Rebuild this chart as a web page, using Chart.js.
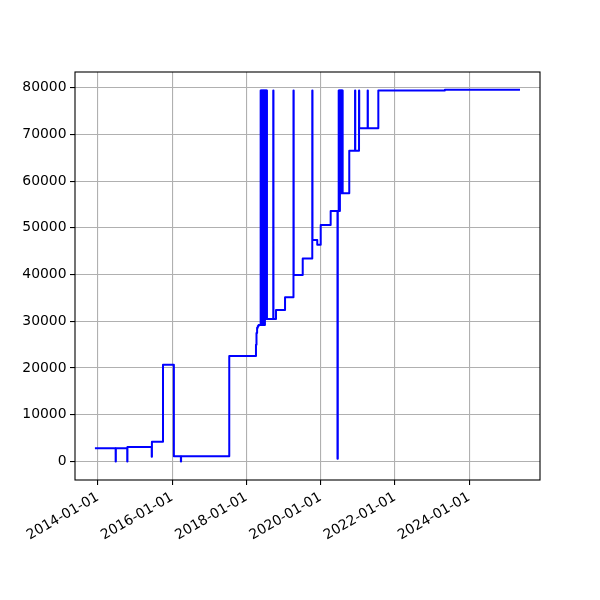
<!DOCTYPE html>
<html>
<head>
<meta charset="utf-8">
<script src="https://cdn.jsdelivr.net/npm/chart.js@4.4.1/dist/chart.umd.min.js"></script>
<style>html,body{margin:0;padding:0;background:#fff}canvas{display:block}</style>
</head>
<body>
<canvas id="c" width="600" height="600"></canvas>
<script>
// ---- data ----
const dates = [
  '2013-12-02','2014-06-24','2014-06-26','2014-10-16','2014-10-18',
  '2015-06-14','2015-06-16','2015-10-03','2016-01-18','2016-03-27',
  '2016-03-29','2017-07-16','2018-04-05','2018-04-10','2018-04-16',
  '2018-04-23','2018-05-01',
  '2018-05-21','2018-05-24','2018-05-27','2018-05-30','2018-06-02',
  '2018-06-05','2018-06-08','2018-06-11','2018-06-14','2018-06-17',
  '2018-06-20','2018-06-23','2018-06-26','2018-06-29','2018-07-02',
  '2018-07-05','2018-07-08','2018-07-11','2018-07-14','2018-07-17',
  '2018-07-20','2018-07-22',
  '2018-09-22','2018-09-24','2018-10-19','2019-01-16','2019-04-09',
  '2019-04-11','2019-07-09','2019-10-11','2019-10-13','2019-11-29',
  '2020-01-02','2020-04-09','2020-06-15','2020-06-18',
  '2020-06-27','2020-06-30','2020-07-03','2020-07-06','2020-07-09',
  '2020-07-12','2020-07-15','2020-07-18','2020-07-21','2020-07-24',
  '2020-07-27','2020-07-30','2020-08-02','2020-08-05',
  '2020-10-09','2020-12-05','2020-12-07','2021-01-13','2021-01-15',
  '2021-04-08','2021-04-10','2021-07-22','2023-05-08','2025-05-16'
];
const values = [
  2800, 0, 2800, 0, 3100,
  1000, 4200, 20700, 1100, 0,
  1100, 22600, 25000, 27500, 28600,
  29000, 29200,
  79400, 29200, 79400, 29200, 79400,
  29200, 79400, 29200, 79400, 29200,
  79400, 29200, 79400, 29200, 79400,
  30500, 79400, 30500, 79400, 30500,
  79400, 30500,
  79400, 30500, 32400, 35150, 79400,
  39900, 43450, 79400, 47400, 46400,
  50600, 53600, 600, 53600,
  79400, 53600, 79400, 53600, 79400,
  57400, 79400, 57400, 79400, 57400,
  79400, 57400, 79400, 57400,
  66500, 79400, 66500, 79400, 71350,
  79400, 71350, 79400, 79550, 79550
];
const xTickLabels = ['2014-01-01','2016-01-01','2018-01-01','2020-01-01','2022-01-01','2024-01-01'];
const yTickValues = [0, 10000, 20000, 30000, 40000, 50000, 60000, 70000, 80000];
const xMinDate = '2013-05-20';
const xMaxDate = '2025-11-29';
const yMin = -3970;
const yMax = 83370;

// ---- build ----
const toMs = d => Date.parse(d);
const points = dates.map((d, i) => ({ x: toMs(d), y: values[i] }));
const xTickMs = xTickLabels.map(toMs);
const fmt = ms => { const d = new Date(ms); const p = n => String(n).padStart(2, '0');
  return d.getUTCFullYear() + '-' + p(d.getUTCMonth() + 1) + '-' + p(d.getUTCDate()); };

const FONT = { family: 'DejaVu Sans', size: 13.9 };
Chart.defaults.color = '#000';

const frame = {
  id: 'frame',
  afterDraw(chart) {
    const { ctx, chartArea: a } = chart;
    ctx.save();
    ctx.strokeStyle = '#000';
    ctx.lineWidth = 1.1;
    ctx.strokeRect(a.left, a.top, a.right - a.left, a.bottom - a.top);
    ctx.restore();
  }
};

new Chart(document.getElementById('c'), {
  type: 'line',
  data: {
    datasets: [{
      data: points,
      borderColor: '#0000ff',
      borderWidth: 2,
      pointRadius: 0,
      stepped: 'before',
      tension: 0,
      fill: false,
      borderJoinStyle: 'round'
    }]
  },
  options: {
    responsive: false,
    animation: false,
    devicePixelRatio: 1,
    layout: { padding: { left: 0, top: 72, right: 60, bottom: 0 } },
    plugins: { legend: { display: false }, tooltip: { enabled: false } },
    scales: {
      x: {
        type: 'linear',
        min: toMs(xMinDate),
        max: toMs(xMaxDate),
        afterBuildTicks: s => { s.ticks = xTickMs.map(v => ({ value: v })); },
        afterFit: s => { s.height = 120; },
        grid: { color: '#b0b0b0', lineWidth: 1.1, tickColor: '#000', tickLength: 5 },
        border: { display: false },
        ticks: { font: FONT, color: '#000', minRotation: 30, maxRotation: 30, padding: 4,
                 autoSkip: false, callback: v => fmt(v) }
      },
      y: {
        type: 'linear',
        min: yMin,
        max: yMax,
        afterBuildTicks: s => { s.ticks = yTickValues.map(v => ({ value: v })); },
        afterFit: s => { s.width = 75; },
        grid: { color: '#b0b0b0', lineWidth: 1.1, tickColor: '#000', tickLength: 5 },
        border: { display: false },
        ticks: { font: FONT, color: '#000', padding: 3.5, callback: v => String(v) }
      }
    }
  },
  plugins: [frame]
});
</script>
</body>
</html>
